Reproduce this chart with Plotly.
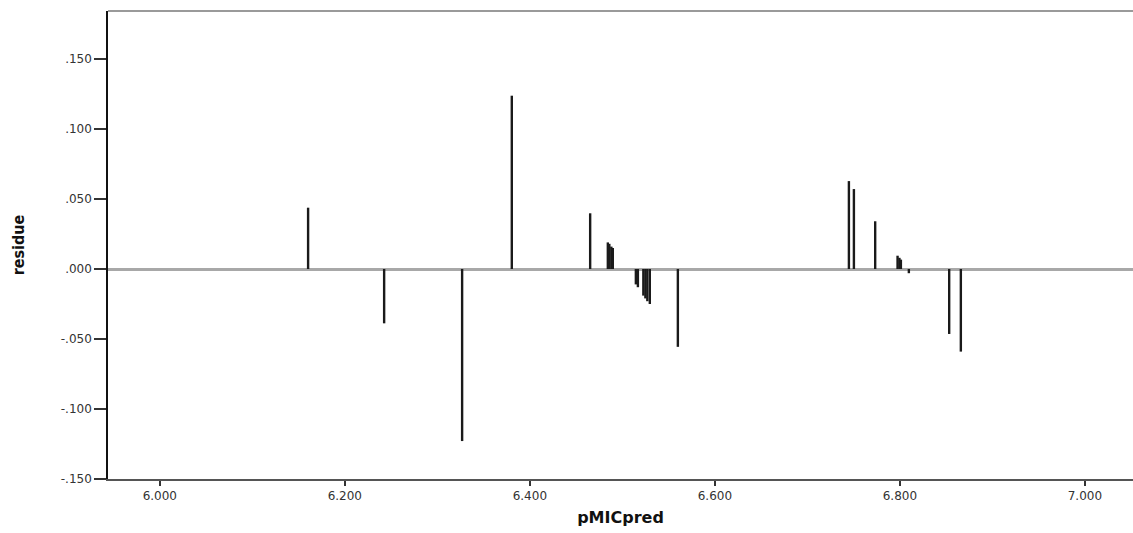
import plotly.graph_objects as go

# Predicted pMIC values and their residuals (drop-line plot)
pmic_pred = [
    6.1603, 6.2425, 6.3268, 6.3805, 6.4652,
    6.4843, 6.4859, 6.4881, 6.4897,
    6.5146, 6.5168, 6.5227, 6.5249, 6.5270, 6.5297,
    6.5600,
    6.7449, 6.7503, 6.7733,
    6.7975, 6.7995, 6.8011, 6.8097,
    6.8533, 6.8659,
]
residue = [
    0.0438, -0.0388, -0.1229, 0.1238, 0.0398,
    0.0190, 0.0180, 0.0160, 0.0150,
    -0.0110, -0.0130, -0.0190, -0.0210, -0.0230, -0.0250,
    -0.0556,
    0.0628, 0.0571, 0.0341,
    0.0095, 0.0080, 0.0067, -0.0030,
    -0.0464, -0.0590,
]

x_ticks = [6.0, 6.2, 6.4, 6.6, 6.8, 7.0]
x_tick_text = ["6.000", "6.200", "6.400", "6.600", "6.800", "7.000"]
y_ticks = [-0.15, -0.10, -0.05, 0.0, 0.05, 0.10, 0.15]
y_tick_text = ["-.150", "-.100", "-.050", ".000", ".050", ".100", ".150"]

# Each residual is drawn as a vertical segment from zero to its value
seg_x, seg_y = [], []
for xv, rv in zip(pmic_pred, residue):
    seg_x += [xv, xv, None]
    seg_y += [0.0, rv, None]

fig = go.Figure()
fig.add_trace(go.Scatter(
    x=seg_x, y=seg_y, mode="lines",
    line=dict(color="#1a1a1a", width=2.4),
    hoverinfo="skip", showlegend=False,
))

tick_font = dict(family="DejaVu Sans, Arial, sans-serif", size=12, color="#333333")

fig.update_layout(
    width=1133, height=533,
    margin=dict(l=108, r=0, t=11, b=54),
    paper_bgcolor="white", plot_bgcolor="white",
    showlegend=False,
    xaxis=dict(
        range=[5.944, 7.052],
        tickmode="array", tickvals=x_ticks, ticktext=x_tick_text,
        ticks="outside", ticklen=5, tickwidth=1.5, tickcolor="#333333",
        showline=True, linecolor="#555555", linewidth=1.5,
        showgrid=False, zeroline=False,
        tickfont=tick_font,
        title=dict(text="<b>pMICpred</b>", standoff=10,
                   font=dict(family="DejaVu Sans, Arial, sans-serif", size=16, color="#111111")),
    ),
    yaxis=dict(
        range=[-0.15, 0.1843],
        tickmode="array", tickvals=y_ticks, ticktext=y_tick_text,
        ticks="outside", ticklen=12, tickwidth=1.5, tickcolor="#333333",
        showline=True, linecolor="#111111", linewidth=1.5,
        showgrid=False,
        zeroline=True, zerolinecolor="#a8a8a8", zerolinewidth=2.5,
        tickfont=tick_font,
        title=dict(text="<b>residue</b>", standoff=32,
                   font=dict(family="DejaVu Sans Condensed, Liberation Sans Narrow, sans-serif",
                             size=16, color="#111111")),
    ),
    shapes=[
        # top frame edge
        dict(type="line", xref="paper", yref="paper", x0=0, x1=1, y0=1, y1=1,
             line=dict(color="#9a9a9a", width=2)),
    ],
)

fig.write_html("out.html")
